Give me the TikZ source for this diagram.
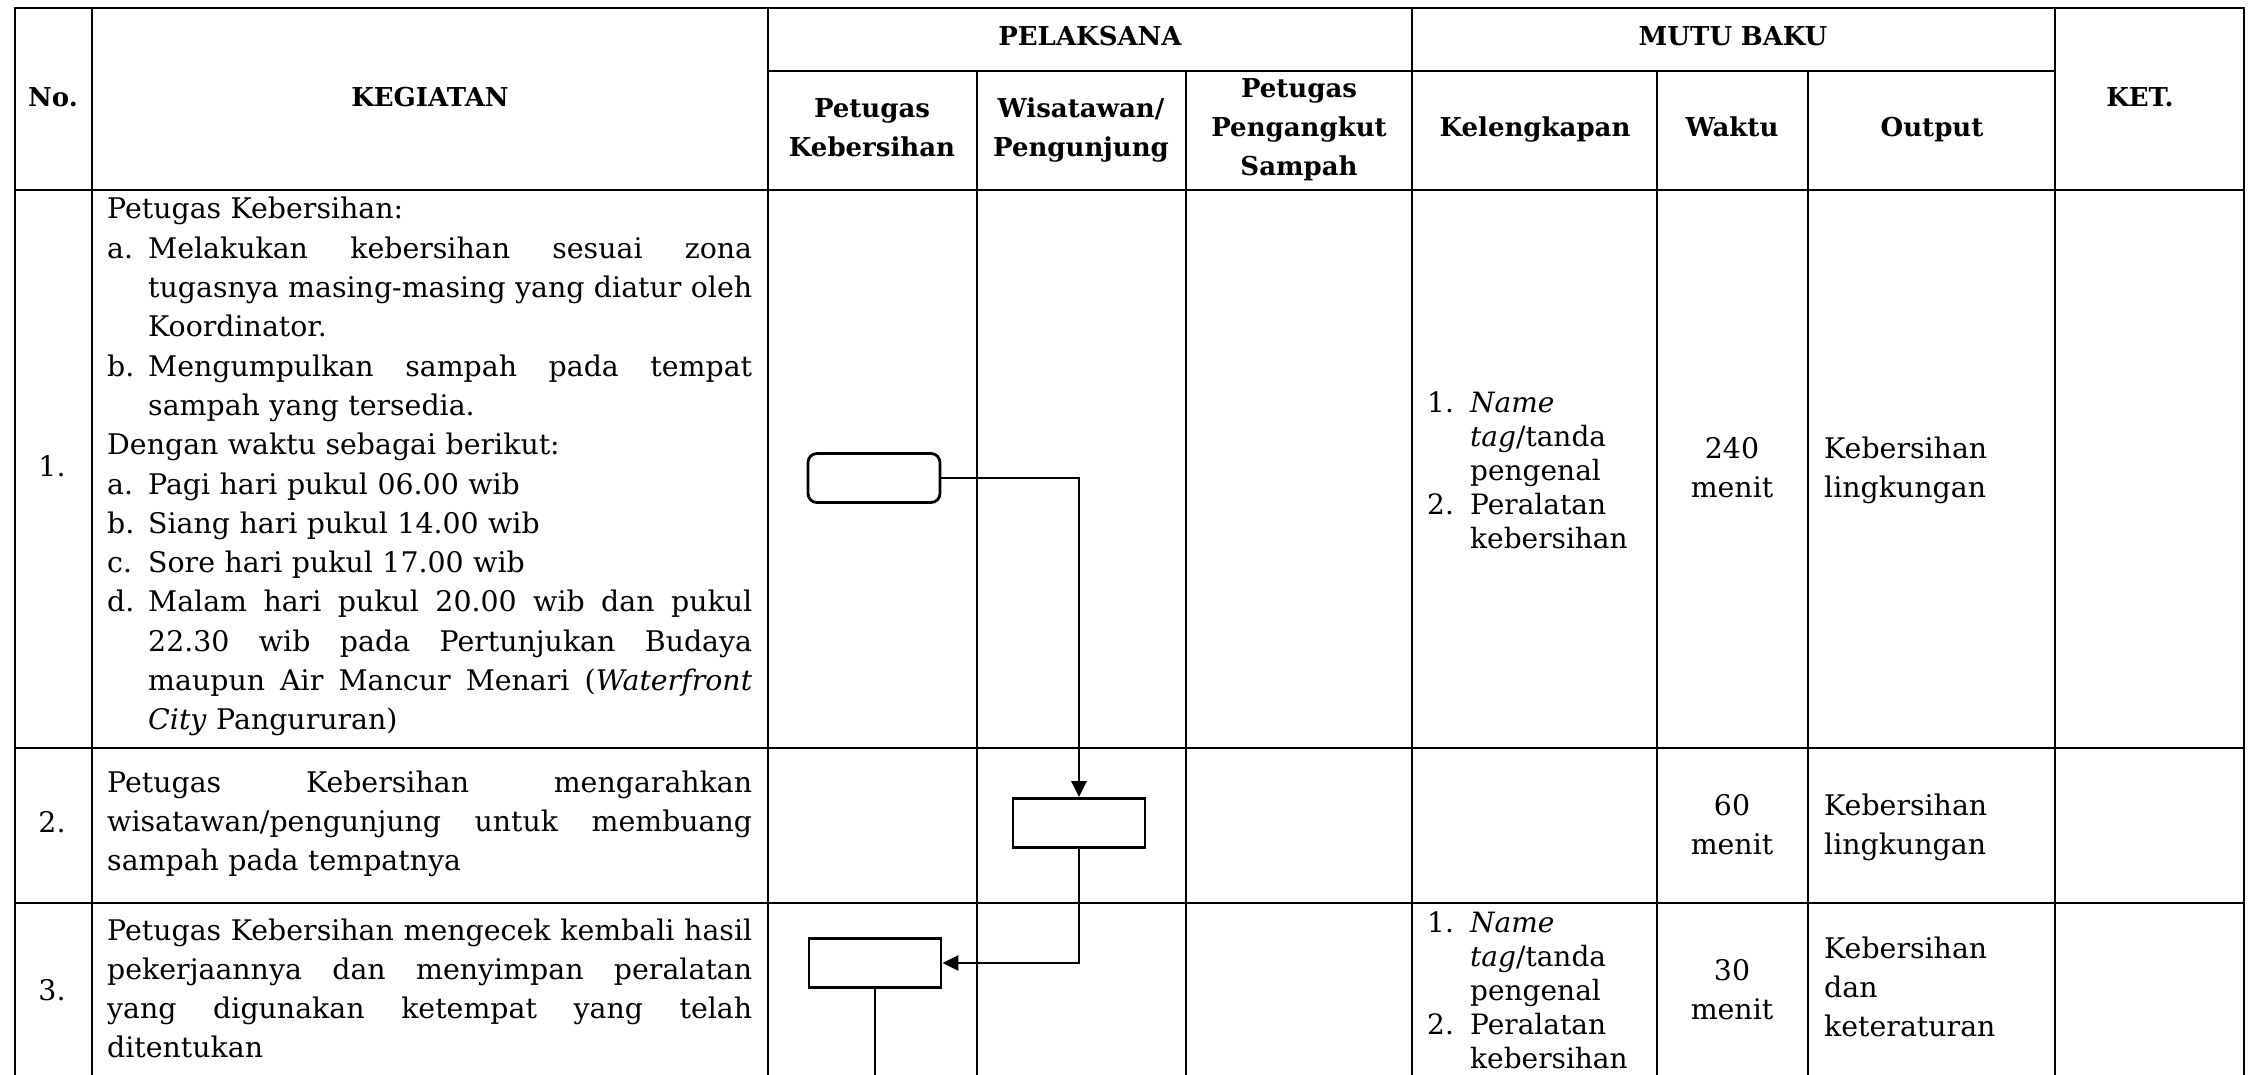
\documentclass[tikz,border=0pt]{standalone}
\usepackage{fontspec}
\setmainfont{DejaVu Serif}
\usetikzlibrary{arrows.meta}
\newcommand\bodyfont{\fontsize{28.4}{39.3}\selectfont}
\newcommand\headfont{\fontsize{26}{38.6}\selectfont\bfseries}
\newcommand\kelfont{\fontsize{28}{34.2}\selectfont}
\newcommand\jln[2]{\makebox[#1][s]{\spaceskip=0pt\xspaceskip=0pt\relax #2}}
\newcommand\itm[1]{\leavevmode\makebox[41pt][l]{#1}}
\newcommand\ind{\leavevmode\hspace*{41pt}}
\newcommand\kitm[1]{\leavevmode\makebox[43pt][l]{#1}}
\newcommand\kind{\leavevmode\hspace*{43pt}}
\begin{document}
\begin{tikzpicture}[x=1pt,y=-1pt,
  tbl/.style={draw=black, line width=2.4pt, line cap=rect},
  hdr/.style={inner sep=0pt, font=\headfont, align=center, anchor=base, text width=220pt},
  body/.style={inner sep=0pt, font=\bodyfont, align=left, anchor=base west, text width=645pt},
  cell/.style={inner sep=0pt, font=\bodyfont, align=left, anchor=base west, text width=220pt},
  num/.style={inner sep=0pt, font=\bodyfont, anchor=base},
  ctr/.style={inner sep=0pt, font=\bodyfont, align=center, anchor=base, text width=140pt},
  kel/.style={inner sep=0pt, font=\kelfont, align=left, anchor=base west, text width=230pt},
  proc/.style={draw=black, line width=2.8pt, minimum width=132pt, minimum height=49pt, inner sep=0pt},
  term/.style={proc, rounded corners=9pt},
  flow/.style={line width=2.8pt, -{Triangle[length=16pt,width=15pt]}},
  plain/.style={line width=2.8pt}]
\useasboundingbox (0,0) rectangle (2248,1075);
\fill[white] (0,0) rectangle (2248,1075);

% table grid
\path[tbl] (15,8) -- (2244,8);
\path[tbl] (768,71) -- (2055,71);
\path[tbl] (15,190) -- (2244,190);
\path[tbl] (15,748) -- (2244,748);
\path[tbl] (15,903) -- (2244,903);
\foreach \xx in {15,92,768,1412,2055,2244}
  \path[tbl] (\xx,8) -- (\xx,1080);
\foreach \xx in {977,1186,1657,1808}
  \path[tbl] (\xx,71) -- (\xx,1080);

% header
\node[hdr] (hNo) at (53,107) {No.};
\node[hdr] (hKeg) at (430,107) {KEGIATAN};
\node[hdr] (hPel) at (1090,46) {PELAKSANA};
\node[hdr] (hMutu) at (1733,46) {MUTU BAKU};
\node[hdr] (hPK) at (872,118) {Petugas\\Kebersihan};
\node[hdr] (hWis) at (1081,118) {Wisatawan/\\Pengunjung};
\node[hdr] (hPA) at (1299,98) {Petugas\\Pengangkut\\Sampah};
\node[hdr] (hKel) at (1535,137) {Kelengkapan};
\node[hdr] (hWak) at (1732,137) {Waktu};
\node[hdr] (hOut) at (1932,137) {Output};
\node[hdr] (hKet) at (2140,107) {KET.};

% numbers
\node[num] (no1) at (52,476) {1.};
\node[num] (no2) at (52,832) {2.};
\node[num] (no3) at (52,1000) {3.};

% kegiatan texts
\node[body] (keg1) at (107,219) {Petugas Kebersihan:\\
\itm{a.}\jln{604pt}{Melakukan kebersihan sesuai zona}\\
\ind\jln{604pt}{tugasnya masing-masing yang diatur oleh}\\
\ind Koordinator.\\
\itm{b.}\jln{604pt}{Mengumpulkan sampah pada tempat}\\
\ind sampah yang tersedia.\\
Dengan waktu sebagai berikut:\\
\itm{a.}Pagi hari pukul 06.00 wib\\
\itm{b.}Siang hari pukul 14.00 wib\\
\itm{c.}Sore hari pukul 17.00 wib\\
\itm{d.}\jln{604pt}{Malam hari pukul 20.00 wib dan pukul}\\
\ind\jln{604pt}{22.30 wib pada Pertunjukan Budaya}\\
\ind\jln{604pt}{maupun Air Mancur Menari (\textit{Waterfront}}\\
\ind\textit{City} Pangururan)};

\node[body] (keg2) at (107,792) {\jln{645pt}{Petugas Kebersihan mengarahkan}\\
\jln{645pt}{wisatawan/pengunjung untuk membuang}\\
sampah pada tempatnya};

\node[body] (keg3) at (107,940) {\jln{645pt}{Petugas Kebersihan mengecek kembali hasil}\\
\jln{645pt}{pekerjaannya dan menyimpan peralatan}\\
\jln{645pt}{yang digunakan ketempat yang telah}\\
ditentukan};

% mutu baku texts
\node[kel] (kel1) at (1427,412) {\kitm{1.}\textit{Name}\\
\kind\textit{tag}/tanda\\
\kind pengenal\\
\kitm{2.}Peralatan\\
\kind kebersihan};
\node[ctr] (wak1) at (1732,458) {240\\menit};
\node[cell] (out1) at (1824,458) {Kebersihan\\lingkungan};

\node[ctr] (wak2) at (1732,815) {60\\menit};
\node[cell] (out2) at (1824,815) {Kebersihan\\lingkungan};

\node[kel] (kel3) at (1427,932) {\kitm{1.}\textit{Name}\\
\kind\textit{tag}/tanda\\
\kind pengenal\\
\kitm{2.}Peralatan\\
\kind kebersihan};
\node[ctr] (wak3) at (1732,980) {30\\menit};
\node[cell] (out3) at (1824,958) {Kebersihan\\dan\\keteraturan};

% flowchart
\node[term] (start) at (874,478) {};
\node[proc] (arah) at (1079,823) {};
\node[proc] (cek) at (875,963) {};
\coordinate (lanjut) at (875,1080);
\draw[flow] (start.east) -| (arah.north);
\draw[flow] (arah.south) |- (cek.east);
\draw[plain] (cek.south) -- (lanjut);
\end{tikzpicture}
\end{document}
